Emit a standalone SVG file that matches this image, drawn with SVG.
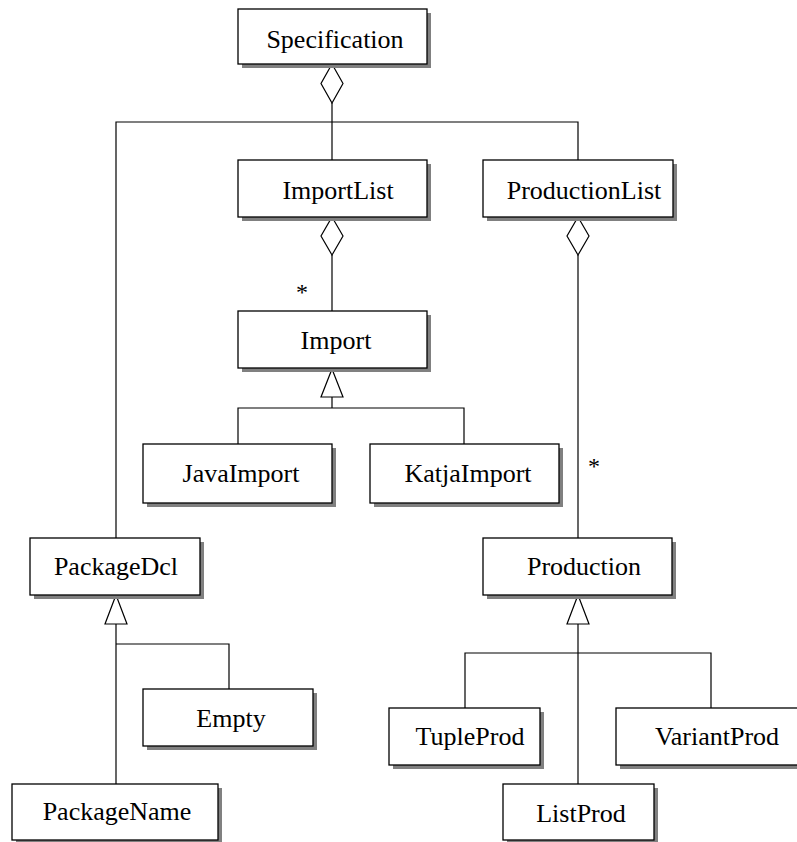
<svg xmlns="http://www.w3.org/2000/svg" width="797" height="842" viewBox="0 0 797 842">
  <style>
    .box { fill: #ffffff; stroke: #000000; stroke-width: 1.3; }
    .shadow { fill: #808080; }
    .lbl { font-family: "Liberation Serif", "Times New Roman", serif; font-size: 26px; fill: #000000; text-anchor: middle; }
    .mult { font-family: "Liberation Serif", "Times New Roman", serif; font-size: 24px; fill: #000000; text-anchor: middle; }
    .line { fill: none; stroke: #000000; stroke-width: 1.2; }
    .head { fill: #ffffff; stroke: #000000; stroke-width: 1.2; }
  </style>

  <!-- connectors: aggregation diamonds, generalization triangles and their lines -->
  <g id="connectors">
    <!-- Specification aggregates PackageDcl, ImportList, ProductionList -->
    <polyline class="line" points="332,103 332,160"/>
    <polyline class="line" points="116,538 116,122 578,122 578,160"/>
    <polygon class="head" points="332,64 343,83.5 332,103 321,83.5"/>

    <!-- ImportList aggregates Import -->
    <line class="line" x1="332" y1="255" x2="332" y2="311"/>
    <polygon class="head" points="332,217 343,236 332,255 321,236"/>
    <text class="mult" x="302" y="300">*</text>

    <!-- ProductionList aggregates Production -->
    <line class="line" x1="578" y1="255" x2="578" y2="538"/>
    <polygon class="head" points="578,217 589,236 578,255 567,236"/>
    <text class="mult" x="594" y="474">*</text>

    <!-- Import generalization -->
    <polyline class="line" points="238,444 238,408 464,408 464,444"/>
    <line class="line" x1="332" y1="397" x2="332" y2="408"/>
    <polygon class="head" points="332,369 343,397 321,397"/>

    <!-- PackageDcl generalization -->
    <line class="line" x1="116" y1="624" x2="116" y2="784"/>
    <polyline class="line" points="116,644 229,644 229,689"/>
    <polygon class="head" points="116,595 127,624 105,624"/>

    <!-- Production generalization -->
    <line class="line" x1="578" y1="624" x2="578" y2="784"/>
    <polyline class="line" points="465,708 465,653 711,653 711,708"/>
    <polygon class="head" points="578,595 589,624 567,624"/>
  </g>

  <g id="Specification">
    <rect class="shadow" x="242" y="13" width="189" height="55"/>
    <rect class="box" x="238" y="9" width="189" height="55"/>
    <text class="lbl" x="335" y="48">Specification</text>
  </g>

  <g id="ImportList">
    <rect class="shadow" x="242" y="164" width="189" height="57"/>
    <rect class="box" x="238" y="160" width="189" height="57"/>
    <text class="lbl" x="338" y="199">ImportList</text>
  </g>

  <g id="ProductionList">
    <rect class="shadow" x="487" y="164" width="190" height="57"/>
    <rect class="box" x="483" y="160" width="190" height="57"/>
    <text class="lbl" x="584" y="199">ProductionList</text>
  </g>

  <g id="Import">
    <rect class="shadow" x="242" y="315" width="189" height="57"/>
    <rect class="box" x="238" y="311" width="189" height="57"/>
    <text class="lbl" x="336" y="349">Import</text>
  </g>

  <g id="JavaImport">
    <rect class="shadow" x="147" y="448" width="189" height="59"/>
    <rect class="box" x="143" y="444" width="189" height="59"/>
    <text class="lbl" x="241" y="482">JavaImport</text>
  </g>

  <g id="KatjaImport">
    <rect class="shadow" x="374" y="448" width="189" height="59"/>
    <rect class="box" x="370" y="444" width="189" height="59"/>
    <text class="lbl" x="468" y="482">KatjaImport</text>
  </g>

  <g id="PackageDcl">
    <rect class="shadow" x="34" y="542" width="170" height="57"/>
    <rect class="box" x="30" y="538" width="170" height="57"/>
    <text class="lbl" x="116" y="575">PackageDcl</text>
  </g>

  <g id="Empty">
    <rect class="shadow" x="147" y="693" width="170" height="57"/>
    <rect class="box" x="143" y="689" width="170" height="57"/>
    <text class="lbl" x="231" y="727">Empty</text>
  </g>

  <g id="PackageName">
    <rect class="shadow" x="16" y="788" width="206" height="56"/>
    <rect class="box" x="12" y="784" width="206" height="56"/>
    <text class="lbl" x="117" y="820">PackageName</text>
  </g>

  <g id="Production">
    <rect class="shadow" x="487" y="542" width="189" height="57"/>
    <rect class="box" x="483" y="538" width="189" height="57"/>
    <text class="lbl" x="584" y="575">Production</text>
  </g>

  <g id="TupleProd">
    <rect class="shadow" x="393" y="712" width="151" height="57"/>
    <rect class="box" x="389" y="708" width="151" height="57"/>
    <text class="lbl" x="470" y="745">TupleProd</text>
  </g>

  <g id="VariantProd">
    <rect class="shadow" x="620" y="712" width="190" height="57"/>
    <rect class="box" x="616" y="708" width="190" height="57"/>
    <text class="lbl" x="717" y="745">VariantProd</text>
  </g>

  <g id="ListProd">
    <rect class="shadow" x="507" y="788" width="151" height="56"/>
    <rect class="box" x="503" y="784" width="151" height="56"/>
    <text class="lbl" x="581" y="822">ListProd</text>
  </g>
</svg>
